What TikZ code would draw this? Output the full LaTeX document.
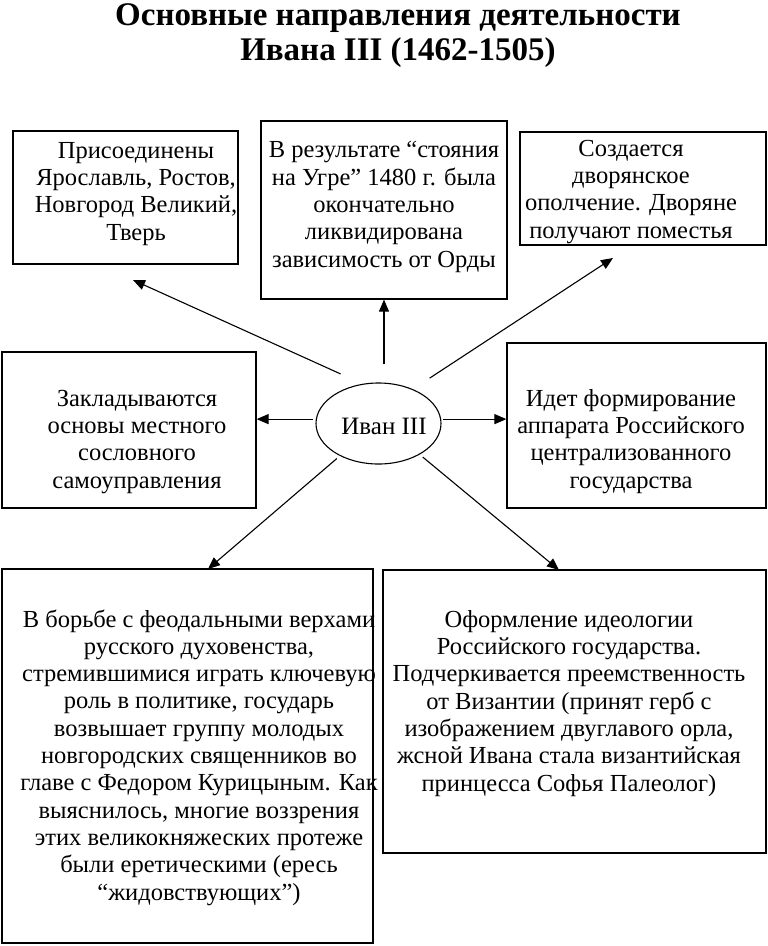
\documentclass[tikz,border=0pt]{standalone}
\usepackage{fontspec}
\setmainfont{Liberation Serif}
\usepackage{tikz}
\usetikzlibrary{arrows.meta,shapes.geometric}

\begin{document}
\begin{tikzpicture}[x=1pt,y=-1pt,
		box/.style={draw=black,line width=1.2pt,rectangle},
		txt/.style={align=center,anchor=base,font=\fontsize{24.5}{27.3}\selectfont},
		arr/.style={draw=black,line width=1.1pt,-{Triangle[length=12pt,width=10pt]}}]
		\tikzstyle{every node}+=[inner sep=0pt]
		\useasboundingbox (0,0) rectangle (768,946);
		\node [anchor=base,align=center,font=\fontsize{33}{35}\selectfont\bfseries] (title) at (398,60) {Основные направления деятельности\\Ивана III (1462-1505)};
		\node [box,minimum width=225,minimum height=133] (boxA) at (125.5,197.5) {};
		\node [box,minimum width=246,minimum height=178] (boxB) at (384,210) {};
		\node [box,minimum width=246,minimum height=113] (boxC) at (643,188.5) {};
		\node [box,minimum width=254,minimum height=156] (boxD) at (129,430) {};
		\node [box,minimum width=259,minimum height=165] (boxE) at (636.5,425.5) {};
		\node [box,minimum width=371,minimum height=374] (boxF) at (187.5,756) {};
		\node [box,minimum width=383,minimum height=283] (boxG) at (574.5,711.5) {};
		\node [draw=black,line width=1.1pt,ellipse,minimum width=125,minimum height=81] (ivan) at (378.5,423.5) {};
		\node [txt,font=\fontsize{25}{27}\selectfont] (ivanT) at (384,434) {Иван III};
		\node [txt] (txtA) at (136,240) {Присоединены\\Ярославль, Ростов,\\Новгород Великий,\\Тверь};
		\node [txt] (txtB) at (384,267) {В результате “стояния\\на Угре” 1480 г. была\\окончательно\\ликвидирована\\зависимость от Орды};
		\node [txt] (txtC) at (631,238) {Создается\\дворянское\\ополчение. Дворяне\\получают поместья};
		\node [txt] (txtD) at (137,488) {Закладываются\\основы местного\\сословного\\самоуправления};
		\node [txt] (txtE) at (631,488) {Идет формирование\\аппарата Российского\\централизованного\\государства};
		\node [txt] (txtF) at (199,900) {В борьбе с феодальными верхами\\русского духовенства,\\стремившимися играть ключевую\\роль в политике, государь\\возвышает группу молодых\\новгородских священников во\\главе с Федором Курицыным. Как\\выяснилось, многие воззрения\\этих великокняжеских протеже\\были еретическими (ересь\\“жидовствующих”)};
		\node [txt] (txtG) at (569,791) {Оформление идеологии\\Российского государства.\\Подчеркивается преемственность\\от Византии (принят герб с\\изображением двуглавого орла,\\жсной Ивана стала византийская\\принцесса Софья Палеолог)};
		\coordinate (tipA) at (133,280);
		\coordinate (tipC) at (613,258);
		\coordinate (tipF) at (208,569);
		\coordinate (tipG) at (559,570);
		\draw [arr,shorten <=24pt] (ivan.112) -- (tipA);
		\draw [arr,shorten <=18pt] (ivan.north -| boxB.south) -- (boxB.south);
		\draw [arr,shorten <=20pt] (ivan.45) -- (tipC);
		\draw [arr,shorten <=3pt] (ivan.176) -- (ivan.176 -| boxD.east);
		\draw [arr,shorten <=2pt] (ivan.4) -- (ivan.4 -| boxE.west);
		\draw [arr,shorten <=4pt] (ivan.220) -- (tipF);
		\draw [arr,shorten <=4pt] (ivan.323) -- (tipG);
\end{tikzpicture}
\end{document}
